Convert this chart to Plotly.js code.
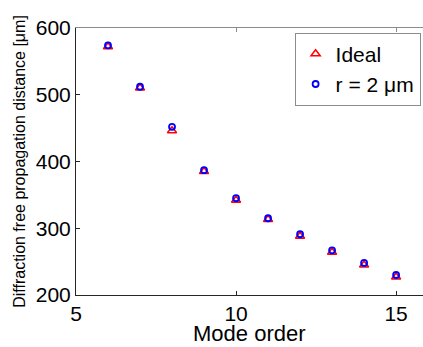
<!DOCTYPE html>
<html>
<head>
<meta charset="utf-8">
<script src="https://cdn.plot.ly/plotly-3.0.1.min.js"></script>
<style>
  html, body { margin: 0; padding: 0; background: #fff; }
  #chart { width: 423px; height: 347px; }
</style>
</head>
<body>
<div id="chart"></div>
<script>
// Mode order
const modeOrder = [6, 7, 8, 9, 10, 11, 12, 13, 14, 15];
// Diffraction-free propagation distance [µm]
const idealDistance = [572, 510, 446, 385, 342, 313, 288, 264, 245, 227];
const r2Distance = [574, 512, 452, 387, 345, 315, 291, 267, 248, 230];

const xTicks = [5, 10, 15];
const yTicks = [200, 300, 400, 500, 600];

const fontFamily = '"Liberation Sans", Arial, Helvetica, sans-serif';

const traces = [
  {
    x: modeOrder, y: idealDistance, name: 'Ideal',
    type: 'scatter', mode: 'markers',
    marker: { symbol: 'triangle-up-open', size: 8, color: '#ff0000', line: { width: 1.5, color: '#ff0000' } }
  },
  {
    x: modeOrder, y: r2Distance, name: 'r = 2 \u03bcm',
    type: 'scatter', mode: 'markers',
    marker: { symbol: 'circle-open', size: 6, color: '#0000ff', line: { width: 1.8, color: '#0000ff' } }
  },
  // invisible trace carrying the top axis
  { x: [5], y: [200], xaxis: 'x2', yaxis: 'y', mode: 'markers', marker: { opacity: 0 }, showlegend: false, hoverinfo: 'skip' }
];

const layout = {
  width: 423, height: 347,
  margin: { l: 76, r: 0, t: 28, b: 52, autoexpand: false },
  paper_bgcolor: '#ffffff', plot_bgcolor: '#ffffff',
  font: { family: fontFamily, color: '#000000', size: 21 },
  showlegend: true,
  xaxis: {
    range: [5, 15.84], tickvals: xTicks, ticktext: xTicks.map(String),
    showgrid: false, zeroline: false,
    showline: true, linecolor: '#262626', linewidth: 1,
    ticks: 'inside', ticklen: 4, tickcolor: '#262626',
    tickfont: { size: 21 },
    automargin: false
  },
  xaxis2: {
    overlaying: 'x', side: 'top', matches: 'x', range: [5, 15.84],
    tickvals: xTicks, showticklabels: false,
    showgrid: false, zeroline: false,
    showline: true, linecolor: '#8c8c8c', linewidth: 1,
    ticks: 'inside', ticklen: 4, tickcolor: '#8c8c8c'
  },
  yaxis: {
    range: [200, 600], tickvals: yTicks, ticktext: yTicks.map(String),
    showgrid: false, zeroline: false,
    showline: true, linecolor: '#262626', linewidth: 1,
    ticks: 'inside', ticklen: 4, tickcolor: '#262626',
    tickfont: { size: 21 },
    automargin: false,
    title: { text: 'Diffraction free propagation distance [\u03bcm]', font: { size: 16 }, standoff: 6 }
  },
  // x-axis title, placed just under the tick labels
  annotations: [{
    text: 'Mode order', showarrow: false,
    xref: 'paper', yref: 'paper', x: 0.5, y: -0.195,
    xanchor: 'center', yanchor: 'bottom', yshift: 0, borderpad: 0,
    font: { size: 22 }
  }],
  legend: {
    x: 0.63, y: 0.983, xanchor: 'left', yanchor: 'top',
    bgcolor: '#ffffff', bordercolor: '#8c8c8c', borderwidth: 1,
    font: { size: 21 }, itemwidth: 30
  }
};

Plotly.newPlot('chart', traces, layout, { displayModeBar: false, staticPlot: true });
</script>
</body>
</html>
